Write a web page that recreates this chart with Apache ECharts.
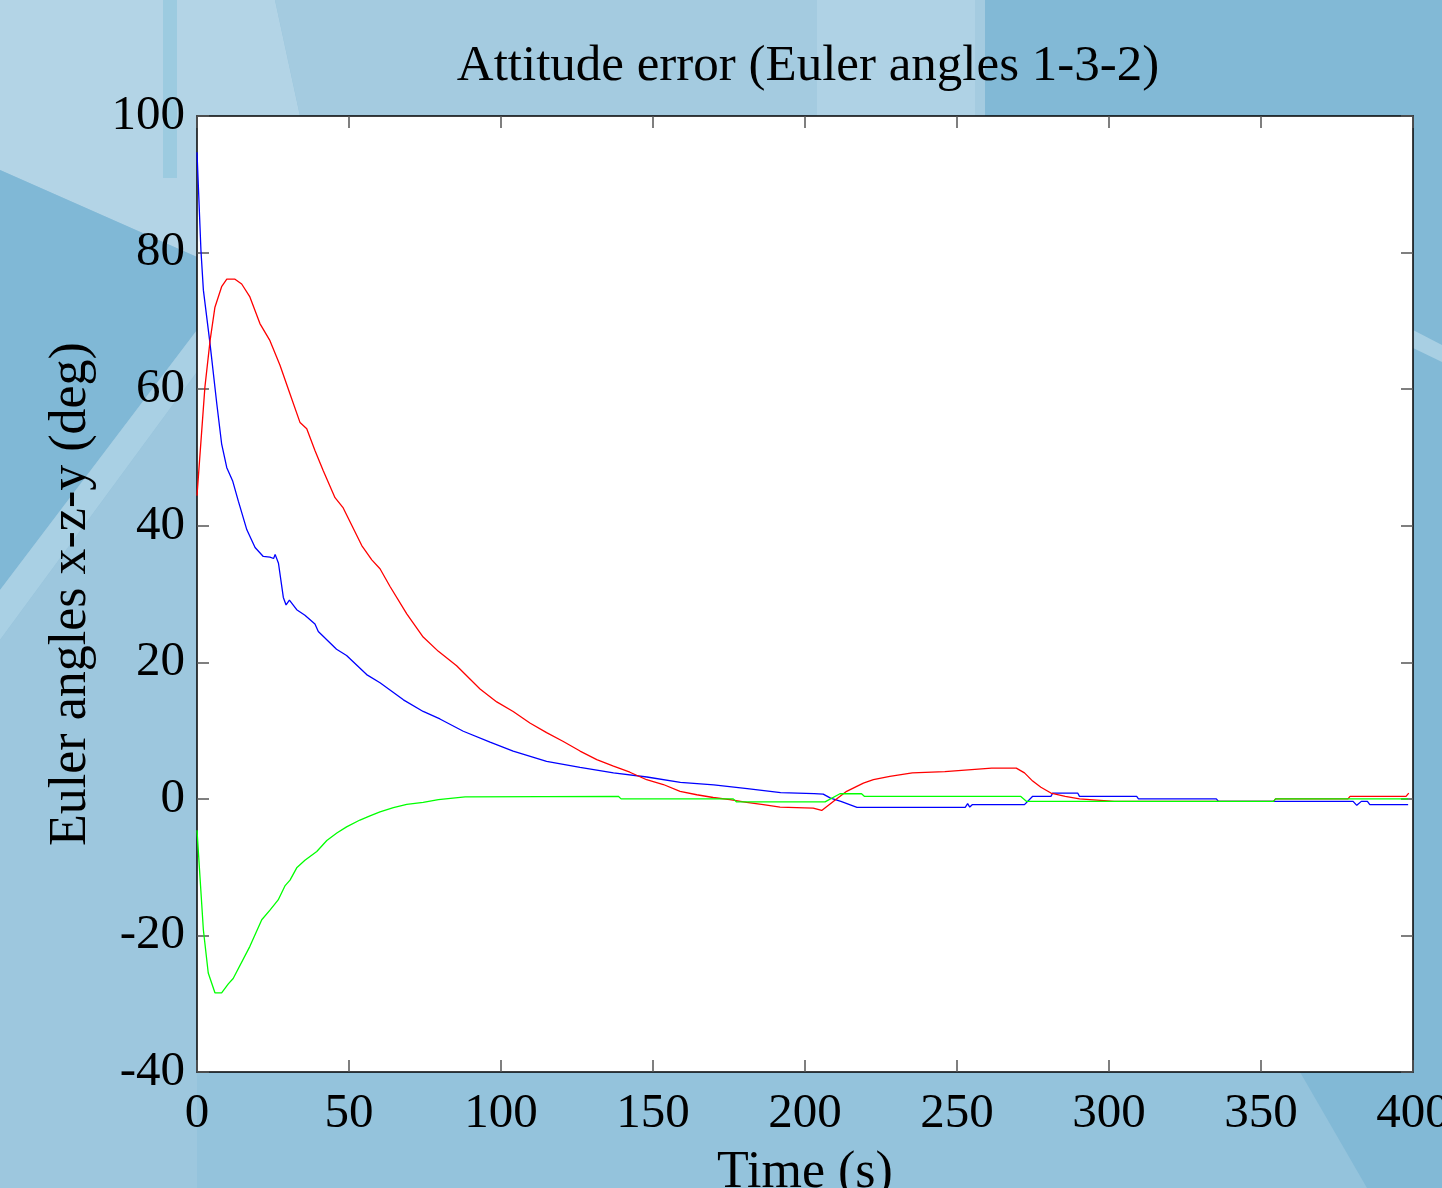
<!DOCTYPE html>
<html>
<head>
<meta charset="utf-8">
<title>Attitude error</title>
<script src="https://cdn.jsdelivr.net/npm/echarts@6/dist/echarts.min.js"></script>
<style>
  html, body { margin: 0; padding: 0; background: #94c3dc; }
  #chart { width: 1442px; height: 1188px; }
</style>
</head>
<body>
<div id="chart"></div>
<script>
// axis ticks
var xTicks = [0, 50, 100, 150, 200, 250, 300, 350, 400];
var yTicks = [-40, -20, 0, 20, 40, 60, 80, 100];

// blue: angle x
var blueT = [0, 1.3, 2.1, 4.3, 6.5, 8.1, 9.8, 11.7, 13.6, 16.4, 19.1, 21.8, 24, 25.2, 25.7, 26.8, 28.4, 29.3, 30.4, 32.8, 35.5, 38.8, 39.9, 45.9, 49.2, 55.8, 60.2, 67.9, 74.4, 79.9, 87.6, 96.4, 104, 115, 126, 137, 148, 159, 170, 181, 192, 203, 206, 208.4, 211.8, 217.1, 252.7, 253.5, 254.2, 255, 272.2, 274.9, 280.9, 281.5, 289.7, 290.3, 309.1, 309.7, 335.3, 336, 380.3, 381.5, 383, 385, 385.8, 398.4];
var blueV = [94.7, 80.3, 74.5, 66.6, 57.9, 52, 48.5, 46.6, 43.6, 39.4, 36.8, 35.5, 35.4, 35.2, 35.8, 34.5, 29.5, 28.4, 29.1, 27.7, 26.9, 25.6, 24.5, 21.9, 21.0, 18.2, 17.0, 14.5, 12.8, 11.7, 9.9, 8.3, 7.0, 5.5, 4.6, 3.8, 3.2, 2.4, 2.05, 1.5, 0.9, 0.78, 0.7, 0.1, -0.37, -1.25, -1.25, -0.7, -1.2, -0.85, -0.85, 0.37, 0.37, 0.85, 0.85, 0.37, 0.37, 0, 0, -0.37, -0.37, -0.95, -0.37, -0.37, -0.85, -0.85];

// red: angle z
var redT = [0, 2.6, 4.3, 5.9, 8.1, 9.8, 12.5, 14.7, 17.4, 20.7, 24, 27.3, 30.6, 33.9, 36.1, 38.8, 41.5, 45.4, 48.1, 54.2, 57.5, 60.2, 63.5, 69, 74.4, 79.4, 85.4, 93.1, 98.6, 104, 109.5, 115, 120.5, 126, 131.5, 137, 142.4, 147.9, 153.4, 158.9, 164.4, 169.8, 175.3, 180.8, 186.3, 191.8, 202.7, 205.5, 209.3, 213.7, 219.2, 222.5, 227.9, 235.3, 246, 261.4, 269.5, 272.2, 274.9, 277.6, 280.9, 285.6, 290.3, 301.7, 354.1, 354.8, 378.6, 379.3, 397.7, 398.6];
var redV = [44.4, 60.3, 67.1, 72, 75, 76.1, 76.1, 75.4, 73.5, 69.6, 67.1, 63.5, 59.3, 55.1, 54.2, 51.0, 48.1, 44.1, 42.6, 37.1, 35.0, 33.7, 31.1, 27.1, 23.7, 21.6, 19.5, 16.1, 14.2, 12.8, 11.1, 9.7, 8.4, 7.0, 5.75, 4.8, 3.9, 2.8, 2.1, 1.1, 0.6, 0.2, -0.1, -0.5, -0.85, -1.2, -1.35, -1.7, -0.4, 1.1, 2.3, 2.8, 3.3, 3.8, 4.0, 4.5, 4.5, 3.8, 2.6, 1.7, 0.85, 0.37, 0, -0.37, -0.37, 0, 0, 0.37, 0.37, 0.85];

// green: angle y
var greenT = [0, 2.1, 3.7, 5.9, 8.1, 10.3, 11.9, 17.4, 21.3, 24, 26.7, 29, 30.6, 32.8, 35.5, 39.4, 42.7, 46, 49.2, 53.6, 56.9, 60.2, 64.6, 69, 74.4, 79.4, 88.2, 138.6, 139.5, 176.4, 177.5, 206.6, 211.5, 218.6, 219.5, 270.9, 272.9, 354.1, 354.8, 398.4];
var greenV = [-4.6, -19.2, -25.5, -28.4, -28.4, -27.1, -26.3, -21.6, -17.7, -16.3, -14.8, -12.7, -11.9, -10.1, -9.0, -7.7, -6.1, -5.0, -4.1, -3.1, -2.5, -1.9, -1.3, -0.8, -0.5, -0.1, 0.3, 0.37, 0, 0, -0.45, -0.45, 0.75, 0.75, 0.37, 0.37, -0.37, -0.37, 0, 0];

function pairs(t, v) {
    var out = [];
    for (var i = 0; i < t.length; i++) out.push([t[i], v[i]]);
    return out;
}

var serif = "'Liberation Serif', 'Times New Roman', serif";
var chart = echarts.init(document.getElementById('chart'));

// plot box in pixels (matches grid below)
var box = { x: 197, y: 116, w: 1216, h: 956 };

// background picture, just rough blue patches
var bg = [
    { points: [[0, 0], [275, 0], [300, 116], [197, 116], [197, 257], [0, 170]], fill: '#b3d4e6' },
    { points: [[275, 0], [985, 0], [985, 116], [300, 116]], fill: '#a4cbe0' },
    { points: [[817, 0], [975, 0], [975, 116], [817, 116]], fill: '#afd2e5' },
    { points: [[985, 0], [1442, 0], [1442, 1188], [1413, 1188], [1413, 116], [985, 116]], fill: '#82b9d6' },
    { points: [[0, 170], [197, 257], [197, 330], [0, 590]], fill: '#80b8d6' },
    { points: [[0, 590], [197, 330], [197, 372], [0, 640]], fill: '#a9d0e4' },
    { points: [[0, 640], [197, 372], [197, 1188], [0, 1188]], fill: '#9dc7de' },
    { points: [[197, 1072], [1300, 1072], [1367, 1188], [197, 1188]], fill: '#94c3dc' },
    { points: [[1300, 1072], [1413, 1072], [1413, 1188], [1367, 1188]], fill: '#82b9d6' },
    { points: [[163, 0], [177, 0], [177, 178], [163, 178]], fill: '#9ccbe0' },
    { points: [[1413, 330], [1442, 345], [1442, 362], [1413, 348]], fill: '#a8cfe3' }
];
var graphics = bg.map(function (p) {
    return { type: 'polygon', z: -10, silent: true, shape: { points: p.points }, style: { fill: p.fill } };
});
graphics.push({ type: 'rect', z: -9, silent: true, shape: { x: box.x, y: box.y, width: box.w, height: box.h }, style: { fill: '#ffffff' } });

var tickStyle = { show: true, inside: true, length: 12, lineStyle: { color: '#555', width: 1.5 } };
var lineStyleAxis = { show: true, onZero: false, lineStyle: { color: '#000', width: 1.5 } };

var option = {
    animation: false,
    backgroundColor: '#94c3dc',
    graphic: { elements: graphics },
    title: {
        text: 'Attitude error (Euler angles 1-3-2)',
        left: 803,
        textAlign: 'center',
        top: 36,
        textStyle: { fontFamily: serif, fontSize: 51, fontWeight: 'normal', color: '#000' }
    },
    grid: { left: box.x, top: box.y, width: box.w, height: box.h, containLabel: false, outerBoundsMode: 'none' },
    xAxis: [{
        type: 'value', min: 0, max: 400, interval: 50,
        name: 'Time (s)', nameLocation: 'middle', nameGap: 75,
        nameTextStyle: { fontFamily: serif, fontSize: 52, color: '#000' },
        axisLine: lineStyleAxis, axisTick: tickStyle, splitLine: { show: false },
        axisLabel: {
            margin: 18, fontFamily: serif, fontSize: 49, color: '#000',
            showMinLabel: true, showMaxLabel: true, hideOverlap: false,
            formatter: function (v) { return xTicks.indexOf(v) >= 0 ? String(v) : ''; }
        }
    }, {
        type: 'value', min: 0, max: 400, interval: 50, position: 'top',
        axisLine: lineStyleAxis, axisTick: tickStyle, splitLine: { show: false }, axisLabel: { show: false }
    }],
    yAxis: [{
        type: 'value', min: -40, max: 100, interval: 20,
        name: 'Euler angles x-z-y (deg)', nameLocation: 'middle', nameGap: 100,
        nameTextStyle: { fontFamily: serif, fontSize: 52, color: '#000' },
        axisLine: lineStyleAxis, axisTick: tickStyle, splitLine: { show: false },
        axisLabel: {
            margin: 12, fontFamily: serif, fontSize: 49, color: '#000',
            showMinLabel: true, showMaxLabel: true, hideOverlap: false,
            formatter: function (v) { return yTicks.indexOf(v) >= 0 ? String(v) : ''; }
        }
    }, {
        type: 'value', min: -40, max: 100, interval: 20, position: 'right',
        axisLine: lineStyleAxis, axisTick: tickStyle, splitLine: { show: false }, axisLabel: { show: false }
    }],
    series: [{
        name: 'x', type: 'line', data: pairs(blueT, blueV), showSymbol: false,
        lineStyle: { color: '#0000ff', width: 1.3 }, itemStyle: { color: '#0000ff' }
    }, {
        name: 'z', type: 'line', data: pairs(redT, redV), showSymbol: false,
        lineStyle: { color: '#ff0000', width: 1.3 }, itemStyle: { color: '#ff0000' }
    }, {
        name: 'y', type: 'line', data: pairs(greenT, greenV), showSymbol: false,
        lineStyle: { color: '#00ff00', width: 1.3 }, itemStyle: { color: '#00ff00' }
    }]
};

chart.setOption(option);
</script>
</body>
</html>
